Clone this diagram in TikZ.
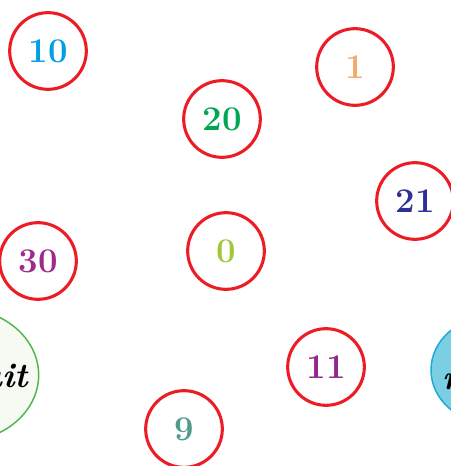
\documentclass[tikz,border=0pt]{standalone}
\usetikzlibrary{shapes.geometric}
\definecolor{ringred}{RGB}{237,28,36}
\definecolor{c10}{RGB}{0,160,227}
\definecolor{c1}{RGB}{247,169,106}
\definecolor{c20}{RGB}{0,166,81}
\definecolor{c21}{RGB}{46,49,146}
\definecolor{c0}{RGB}{160,200,60}
\definecolor{c30}{RGB}{158,42,142}
\definecolor{c11}{RGB}{146,39,143}
\definecolor{c9}{RGB}{80,155,140}
\definecolor{gfill}{RGB}{246,250,243}
\definecolor{gline}{RGB}{76,184,76}
\definecolor{bfill}{RGB}{122,207,226}
\definecolor{bline}{RGB}{27,169,216}
\tikzset{
  numc/.style={circle, draw=ringred, line width=2.3pt, minimum size=57.5pt, inner sep=0pt,
    font=\fontsize{26}{28}\selectfont\bfseries},
  setlabel/.style={font=\fontsize{26}{28}\selectfont\bfseries\itshape, text=black, inner sep=0pt}
}
\begin{document}
\begin{tikzpicture}[x=0.75pt,y=-0.75pt]
\useasboundingbox (0,0) rectangle (450,466);
% set ellipses
\node[ellipse, draw=gline, fill=gfill, line width=1.1pt, inner sep=0pt,
  minimum width=118pt, minimum height=100pt] (gset) at (-40,375) {};
\node[setlabel, anchor=base east] (glabel) at (28,387) {Fruit};
\node[ellipse, draw=bline, fill=bfill, line width=1.1pt, inner sep=0pt,
  minimum width=90pt, minimum height=80pt] (bset) at (491,370) {};
\node[setlabel, anchor=base west] (blabel) at (442,389) {n};
% number circles
\node[numc, text=c10] (n10) at (48,51) {10};
\node[numc, text=c1]  (n1)  at (355,67) {1};
\node[numc, text=c20] (n20) at (222,119) {20};
\node[numc, text=c21] (n21) at (415,201) {21};
\node[numc, text=c0]  (n0)  at (226,251) {0};
\node[numc, text=c30] (n30) at (38,261) {30};
\node[numc, text=c11] (n11) at (326,367) {11};
\node[numc, text=c9]  (n9)  at (184,429) {9};
\end{tikzpicture}
\end{document}
